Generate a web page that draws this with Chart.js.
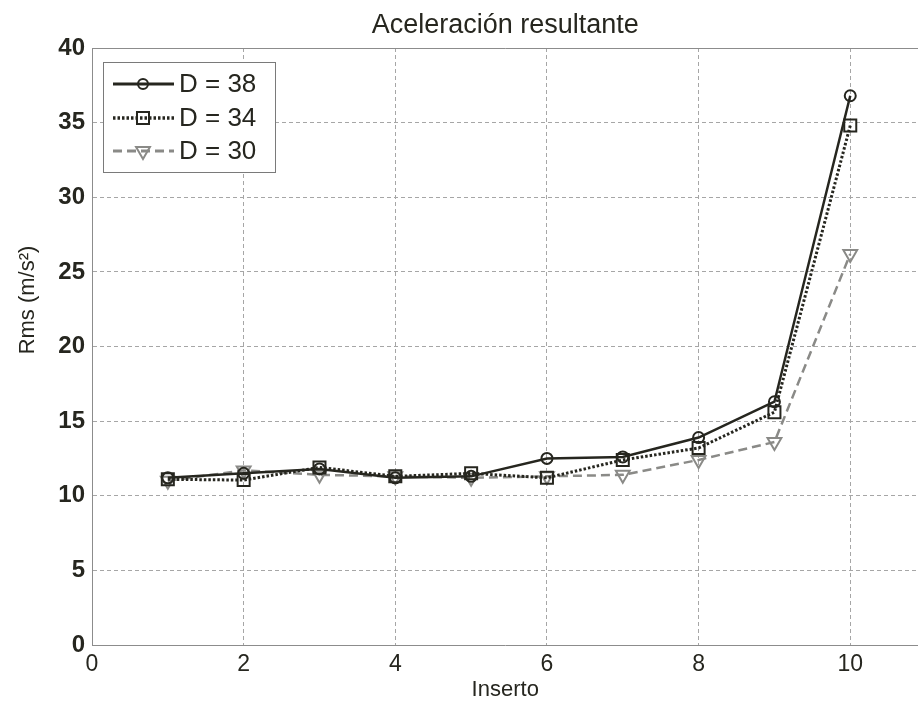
<!DOCTYPE html>
<html>
<head>
<meta charset="utf-8">
<script src="https://cdn.jsdelivr.net/npm/chart.js@4/dist/chart.umd.min.js"></script>
<style>
  html, body { margin: 0; padding: 0; background: #fff; overflow: hidden; }
  #wrap { width: 918px; height: 706px; overflow: hidden; position: relative; }
  #c { position: absolute; left: 0; top: 0; }
</style>
</head>
<body>
<div id="wrap"><canvas id="c" width="929" height="706"></canvas></div>
<script>
// Insert number on the x axis
const inserts = [1, 2, 3, 4, 5, 6, 7, 8, 9, 10];
// Resultant acceleration RMS (m/s^2) for each diameter
const d38 = [11.2, 11.5, 11.8, 11.2, 11.3, 12.5, 12.6, 13.9, 16.3, 36.8];
const d34 = [11.1, 11.05, 11.9, 11.3, 11.5, 11.2, 12.4, 13.2, 15.6, 34.8];
const d30 = [11.0, 11.7, 11.4, 11.3, 11.2, 11.3, 11.4, 12.4, 13.6, 26.2];
const seriesLabels = ['D = 38', 'D = 34', 'D = 30'];
const chartTitle = 'Aceleración resultante';
const xTitle = 'Inserto';
const yTitle = 'Rms (m/s\u00B2)';

const FONT = '"Liberation Sans", Arial, sans-serif';
const DARK = '#26261f';
const GREY = '#8a8a87';

function pts(vals) { return inserts.map((x, i) => ({ x: x, y: vals[i] })); }

const datasets = [
  { label: seriesLabels[0], data: pts(d38), borderColor: DARK, borderWidth: 2.5, borderDash: [],
    pointStyle: 'circle', pointRadius: 5.5, pointBorderWidth: 2, pointRotation: 0 },
  { label: seriesLabels[1], data: pts(d34), borderColor: DARK, borderWidth: 3, borderDash: [2.5, 2],
    pointStyle: 'rect', pointRadius: 8.5, pointBorderWidth: 2, pointRotation: 0 },
  { label: seriesLabels[2], data: pts(d30), borderColor: GREY, borderWidth: 2.5, borderDash: [9, 5],
    pointStyle: 'triangle', pointRadius: 8, pointBorderWidth: 2, pointRotation: 180 }
].map(d => Object.assign(d, {
  pointBorderColor: d.borderColor,
  pointBackgroundColor: 'rgba(255,255,255,0)',
  backgroundColor: 'rgba(0,0,0,0)',
  fill: false, tension: 0
}));

// Draws a single marker for the legend
function marker(ctx, ds, x, y) {
  ctx.save();
  ctx.setLineDash([]);
  ctx.lineWidth = ds.pointBorderWidth;
  ctx.strokeStyle = ds.pointBorderColor;
  ctx.beginPath();
  const r = ds.pointRadius;
  if (ds.pointStyle === 'circle') {
    ctx.arc(x, y, r - 0.5, 0, Math.PI * 2);
  } else if (ds.pointStyle === 'rect') {
    const s = Math.SQRT1_2 * r;
    ctx.rect(x - s, y - s, 2 * s, 2 * s);
  } else {
    const half = r * Math.sqrt(3) / 2;
    ctx.moveTo(x - half, y - r * 0.5);
    ctx.lineTo(x + half, y - r * 0.5);
    ctx.lineTo(x, y + r);
    ctx.closePath();
  }
  ctx.stroke();
  ctx.restore();
}

const decor = {
  id: 'decor',
  afterDraw(chart) {
    const ctx = chart.ctx, a = chart.chartArea;
    ctx.save();
    // top frame line
    ctx.strokeStyle = '#8c8c8c';
    ctx.lineWidth = 1;
    ctx.beginPath();
    ctx.moveTo(a.left, a.top + 0.5);
    ctx.lineTo(a.right, a.top + 0.5);
    ctx.stroke();

    // y axis title
    ctx.save();
    ctx.translate(28, 300);
    ctx.rotate(-Math.PI / 2);
    ctx.fillStyle = DARK;
    ctx.font = '22px ' + FONT;
    ctx.textAlign = 'center';
    ctx.textBaseline = 'middle';
    ctx.fillText(yTitle, 0, 0);
    ctx.restore();

    // legend
    const bx = 103.5, by = 62.5, bw = 172, bh = 110;
    ctx.fillStyle = '#fff';
    ctx.fillRect(bx, by, bw, bh);
    ctx.strokeStyle = '#7a7a7a';
    ctx.lineWidth = 1;
    ctx.strokeRect(bx, by, bw, bh);
    const rows = [84, 118, 151];
    chart.data.datasets.forEach((ds, i) => {
      const y = rows[i];
      ctx.save();
      ctx.strokeStyle = ds.borderColor;
      ctx.lineWidth = ds.borderWidth + 0.5;
      ctx.setLineDash(ds.borderDash);
      ctx.beginPath();
      ctx.moveTo(113, y);
      ctx.lineTo(174, y);
      ctx.stroke();
      ctx.restore();
      marker(ctx, ds, 143, y);
      ctx.fillStyle = DARK;
      ctx.font = '26px ' + FONT;
      ctx.textAlign = 'left';
      ctx.textBaseline = 'middle';
      ctx.fillText(ds.label, 179, y + 1);
    });
    ctx.restore();
  }
};

new Chart(document.getElementById('c'), {
  type: 'line',
  data: { datasets: datasets },
  plugins: [decor],
  options: {
    responsive: false,
    animation: false,
    devicePixelRatio: 1,
    layout: { padding: 0 },
    plugins: {
      legend: { display: false },
      tooltip: { enabled: false },
      title: {
        display: true, text: chartTitle, fullSize: false,
        color: DARK, font: { family: FONT, size: 27, weight: 'normal', lineHeight: 1.2 },
        padding: { top: 9, bottom: 6.6 }
      }
    },
    scales: {
      x: {
        type: 'linear', min: 0, max: 10.9,
        afterFit(s) { s.height = 61; s.paddingRight = 0; s.paddingLeft = 0; },
        ticks: { stepSize: 2, includeBounds: false, color: DARK, padding: 6,
                 font: { family: FONT, size: 23 }, maxRotation: 0 },
        grid: { color: '#a6a6a6', lineWidth: 1, drawTicks: false },
        border: { display: true, color: '#8c8c8c', width: 1, dash: [4, 3] },
        title: { display: true, text: xTitle, color: DARK,
                 font: { family: FONT, size: 22, lineHeight: 1.2 }, padding: { top: 0, bottom: 3 } }
      },
      y: {
        type: 'linear', min: 0, max: 40,
        afterFit(s) { s.width = 92; },
        ticks: { stepSize: 5, color: DARK, padding: 7, font: { family: FONT, size: 24, weight: 'bold' } },
        grid: { color: '#a6a6a6', lineWidth: 1, drawTicks: false },
        border: { display: true, color: '#8c8c8c', width: 1, dash: [4, 3] }
      }
    }
  }
});
</script>
</body>
</html>
